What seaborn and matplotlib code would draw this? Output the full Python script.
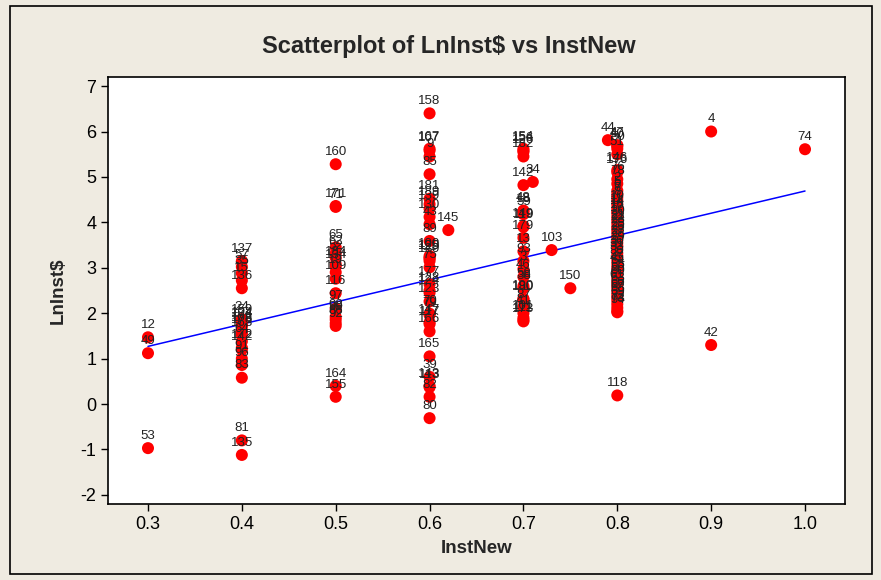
import matplotlib
matplotlib.use("Agg")
import matplotlib.pyplot as plt
from matplotlib.patches import Rectangle
import seaborn as sns
import pandas as pd

# InstNew values (x), LnInst$ values (y), observation number shown on each point
inst_new = [
    0.3, 0.3, 0.3,
    0.4, 0.4, 0.4, 0.4, 0.4, 0.4, 0.4, 0.4, 0.4, 0.4, 0.4, 0.4, 0.4, 0.4, 0.4, 0.4, 0.4, 0.4, 0.4, 0.4,
    0.5, 0.5, 0.5, 0.5, 0.5, 0.5, 0.5, 0.5, 0.5, 0.5, 0.5, 0.5, 0.5, 0.5, 0.5, 0.5, 0.5, 0.5,
    0.6, 0.6, 0.6, 0.6, 0.6, 0.6, 0.6, 0.6, 0.6, 0.6, 0.6, 0.6, 0.6, 0.6, 0.6, 0.6, 0.6, 0.6,
    0.6, 0.6, 0.6, 0.6, 0.6, 0.6, 0.6, 0.6, 0.6, 0.6, 0.6, 0.6, 0.6, 0.62,
    0.7, 0.7, 0.7, 0.7, 0.7, 0.7, 0.7, 0.7, 0.7, 0.7, 0.7, 0.7, 0.7, 0.7, 0.7, 0.7, 0.7, 0.7,
    0.7, 0.7, 0.7, 0.7, 0.7, 0.7, 0.71, 0.73, 0.75,
    0.79, 0.8, 0.8, 0.8, 0.8, 0.8, 0.8, 0.8, 0.8,
    0.8, 0.8, 0.8, 0.8, 0.8, 0.8, 0.8, 0.8, 0.8, 0.8, 0.8, 0.8, 0.8, 0.8, 0.8, 0.8, 0.8, 0.8, 0.8,
    0.8, 0.8, 0.8, 0.8, 0.8, 0.8, 0.8, 0.8, 0.8, 0.8, 0.8, 0.8, 0.8, 0.8, 0.8, 0.8, 0.8, 0.8, 0.8,
    0.8,
    0.9, 0.9, 1.0,
]
ln_inst = [
    1.47, 1.12, -0.97,
    3.15, 3.02, 2.88, 2.72, 2.55, 1.87, 1.80, 1.74, 1.72, 1.62, 1.58, 1.52, 1.38, 1.24, 1.20, 1.00, 0.86, 0.58, -0.80, -1.12,
    5.28, 4.36, 4.34, 3.45, 3.32, 3.22, 3.08, 3.02, 2.90, 2.76, 2.44, 2.10, 1.92, 1.86, 1.78, 1.72, 0.40, 0.16,
    6.40, 5.62, 5.58, 5.45, 5.06, 4.52, 4.40, 4.30, 4.12, 3.96, 3.59, 3.26, 3.22, 3.20, 3.15, 3.01, 2.64, 2.50,
    2.45, 2.26, 1.99, 1.96, 1.80, 1.76, 1.60, 1.05, 0.60, 0.40, 0.37, 0.16, -0.31, 3.83,
    5.62, 5.58, 5.55, 5.45, 4.82, 4.26, 4.24, 4.18, 3.92, 3.90, 3.66, 3.36, 3.15, 2.97, 2.80, 2.60, 2.55, 2.32,
    2.30, 2.14, 2.00, 1.90, 1.85, 1.82, 4.89, 3.39, 2.55,
    5.81, 5.70, 5.68, 5.62, 5.50, 5.15, 5.10, 4.95, 4.85,
    4.70, 4.62, 4.55, 4.48, 4.40, 4.32, 4.25, 4.20, 4.12, 4.05, 3.98, 3.90, 3.85, 3.78, 3.70, 3.62, 3.55, 3.48, 3.40,
    3.32, 3.25, 3.18, 3.10, 3.02, 2.95, 2.88, 2.80, 2.72, 2.65, 2.58, 2.50, 2.42, 2.35, 2.28, 2.20, 2.12, 2.05, 0.19,
    2.02,
    6.00, 1.30, 5.61,
]
obs_id = [
    12, 49, 53,
    137, 57, 35, 15, 136, 24, 159, 104, 174, 108, 178, 163, 64, 172, 142, 91, 96, 83, 81, 135,
    160, 171, 71, 65, 62, 52, 184, 134, 19, 109, 116, 97, 98, 99, 86, 92, 164, 155,
    158, 167, 107, 9, 85, 181, 189, 139, 130, 43, 89, 100, 129, 125, 120, 75, 177, 128,
    124, 123, 70, 79, 147, 117, 166, 165, 39, 143, 113, 82, 80, 145,
    154, 156, 126, 182, 142, 48, 18, 59, 149, 119, 179, 13, 93, 3, 46, 58, 38, 190,
    180, 87, 41, 101, 111, 173, 34, 103, 150,
    44, 47, 40, 50, 51, 146, 176, 76, 78,
    2, 5, 6, 7, 8, 10, 11, 14, 16, 17, 20, 21, 22, 23, 25, 26, 27, 28, 29,
    30, 31, 33, 36, 37, 45, 54, 55, 56, 60, 61, 63, 66, 67, 68, 69, 72, 73, 118,
    94,
    4, 42, 74,
]

# end points of the fitted regression line
fit_x = [0.3, 1.0]
fit_y = [1.27, 4.69]

x_ticks = [0.3, 0.4, 0.5, 0.6, 0.7, 0.8, 0.9, 1.0]
y_ticks = [-2, -1, 0, 1, 2, 3, 4, 5, 6, 7]

df = pd.DataFrame({"InstNew": inst_new, "LnInst$": ln_inst, "obs": obs_id})
fit = pd.DataFrame({"InstNew": fit_x, "LnInst$": fit_y})

sns.set_style("ticks")
plt.rcParams["font.family"] = ["Liberation Sans Narrow", "Liberation Sans", "DejaVu Sans"]
plt.rcParams["axes.unicode_minus"] = False

bg = "#efebe1"
fig = plt.figure(figsize=(8.81, 5.8), dpi=100, facecolor=bg)
ax = fig.add_axes([108 / 881, 76 / 580, 737 / 881, 427 / 580])
ax.set_facecolor("white")

sns.lineplot(data=fit, x="InstNew", y="LnInst$", color="#0000ff", lw=1.1, ax=ax)
sns.scatterplot(data=df, x="InstNew", y="LnInst$", color="#ff0000", s=75,
                edgecolor="none", ax=ax, zorder=3)

for xv, yv, lab in zip(df["InstNew"], df["LnInst$"], df["obs"]):
    ax.annotate(str(lab), (xv, yv), xytext=(0, 4.5), textcoords="offset points",
                ha="center", va="bottom", fontsize=9.5, color="#222222",
                family=["Liberation Sans", "DejaVu Sans"], zorder=4)

ax.set_xlim(0.2574, 1.0426)
ax.set_ylim(-2.2, 7.2)
ax.set_xticks(x_ticks)
ax.set_xticklabels(["%.1f" % t for t in x_ticks])
ax.set_yticks(y_ticks)
ax.tick_params(direction="out", length=5, width=1, colors="black", labelsize=13)
for sp in ax.spines.values():
    sp.set_visible(True)
    sp.set_color("black")
    sp.set_linewidth(1.2)

ax.set_xlabel("InstNew", fontsize=13.5, fontweight="bold", labelpad=5)
ax.set_ylabel("LnInst$", fontsize=13.5, fontweight="bold", labelpad=10)

fig.text(449 / 881, 1 - 47 / 580, "Scatterplot of LnInst$ vs InstNew",
         ha="center", va="center", fontsize=17, fontweight="bold")

fig.patches.append(Rectangle((10 / 881, 6 / 580), 862 / 881, 568 / 580,
                             transform=fig.transFigure, fill=False,
                             edgecolor="black", lw=1.2))

fig.savefig("out.png", dpi=100, facecolor=bg)
